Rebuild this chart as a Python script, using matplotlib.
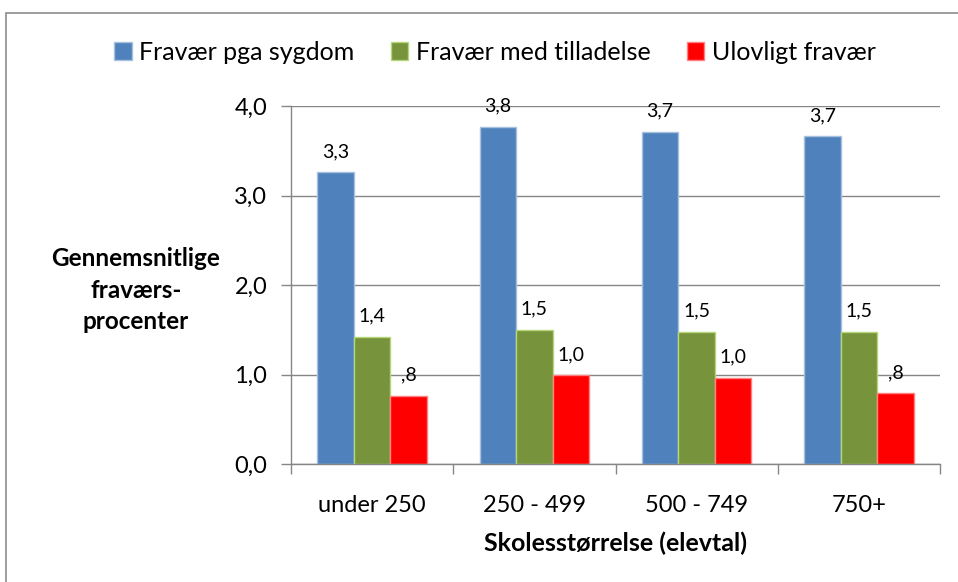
import matplotlib
matplotlib.use("Agg")
import matplotlib.pyplot as plt
import numpy as np
from matplotlib.patches import Rectangle

plt.rcParams['font.family'] = ['Lato', 'DejaVu Sans']

categories = ["under 250", "250 - 499", "500 - 749", "750+"]
series_names = ["Fravær pga sygdom", "Fravær med tilladelse", "Ulovligt fravær"]
sygdom = [3.26, 3.77, 3.71, 3.66]
tilladelse = [1.42, 1.50, 1.48, 1.48]
ulovligt = [0.76, 0.99, 0.96, 0.79]
yticks = [0.0, 1.0, 2.0, 3.0, 4.0]
ytick_labels = ["0,0", "1,0", "2,0", "3,0", "4,0"]

colors = ["#4F81BD", "#77933C", "#FF0000"]
edges = ["#A7C0DE", "#B5D77A", "#FF8080"]

def fmt(v):
    s = f"{v:.1f}".replace(".", ",")
    if s.startswith("0,"):
        s = s[1:]
    return s

fig = plt.figure(figsize=(9.58, 5.82), dpi=100)
ax = fig.add_axes([291/958, 1 - 464/582, (940-291)/958, (464-106)/582])

x = np.arange(len(categories))
w = 0.225
offsets = [-w, 0, w]
grid_c = "#868686"
for vals, off, c, ec, name in zip([sygdom, tilladelse, ulovligt], offsets, colors, edges, series_names):
    bars = ax.bar(x + off, vals, width=w, color=c, edgecolor=ec, linewidth=1, label=name, zorder=3)
    for b, v in zip(bars, vals):
        ax.annotate(fmt(v), (b.get_x() + b.get_width()/2, v), xytext=(0, 15),
                    textcoords="offset points", ha="center", va="center", fontsize=14, zorder=4)

ax.set_xlim(-0.5, 3.5)
ax.set_ylim(0, 4.0)
ax.set_yticks(yticks)
ax.set_yticklabels(ytick_labels, fontsize=17)
ax.set_xticks(x)
ax.set_xticklabels(categories, fontsize=17)
ax.set_xticks(np.arange(-0.5, 4.0, 1.0), minor=True)
ax.tick_params(axis="x", which="major", length=0, pad=22)
ax.tick_params(axis="x", which="minor", length=7, color=grid_c, width=1)
ax.tick_params(axis="y", which="major", length=7, color=grid_c, width=1, pad=10)
ax.yaxis.grid(True, color=grid_c, linewidth=1, zorder=0)
ax.set_axisbelow(True)
for s in ["top", "right"]:
    ax.spines[s].set_visible(False)
for s in ["left", "bottom"]:
    ax.spines[s].set_color(grid_c)
    ax.spines[s].set_linewidth(1)
ax.spines["bottom"].set_zorder(5)

fig.text(136/958, 1 - 290/582, "Gennemsnitlige\nfraværs-\nprocenter", ha="center", va="center",
         fontsize=17.5, fontweight="bold", multialignment="center", linespacing=1.45)
fig.text(615/958, 1 - 543/582, "Skolesstørrelse (elevtal)", ha="center", va="center",
         fontsize=18, fontweight="bold")

leg = fig.legend(loc="center", bbox_to_anchor=(495/958, 1 - 52/582), ncol=3, frameon=False,
                 fontsize=18, handlelength=0.7, handleheight=0.7, handletextpad=0.3,
                 columnspacing=1.45)

fig.patches.append(Rectangle((6/958, -0.1), 1.2, 1 - 13/582 + 0.1, transform=fig.transFigure,
                             fill=False, edgecolor="#8C8C8C", linewidth=1.2, clip_on=False))

fig.savefig("out.png", dpi=100)
